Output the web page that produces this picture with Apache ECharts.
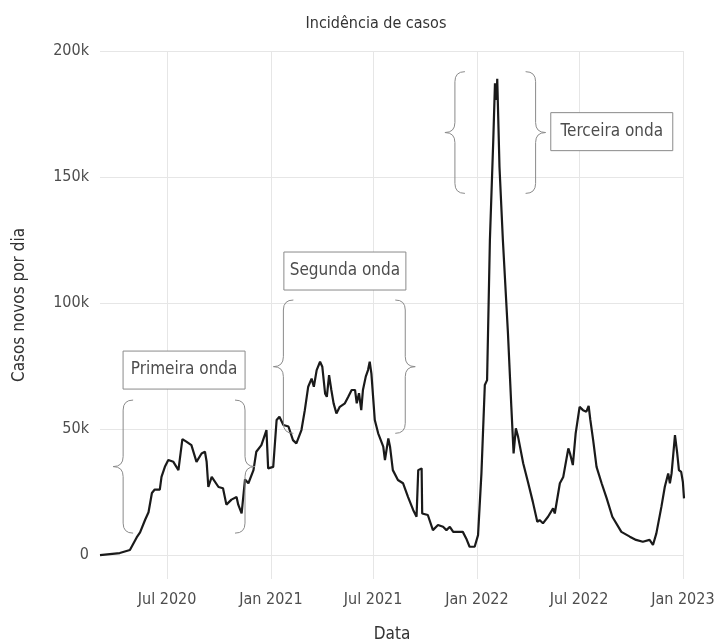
<!DOCTYPE html>
<html>
<head>
<meta charset="utf-8">
<script src="https://cdn.jsdelivr.net/npm/echarts@6/dist/echarts.min.js"></script>
<style>
    html, body { margin: 0; padding: 0; background: #fff; }
    #chart { width: 718px; height: 642px; }
</style>
</head>
<body>
<div id="chart"></div>
<script>
// days counted from 2020-03-04, values in thousands of new cases per day
const startDate = [2020, 2, 4];
const caseDays = [0,35,53,65,71,80,86,92,97,106,
    109,115,121,130,139,146,153,162,171,180,
    186,189,192,198,210,218,224,233,242,245,
    251,254,257,263,272,277,286,295,298,307,
    313,318,325,334,342,348,357,363,369,375,
    379,384,390,394,399,402,406,410,414,419,
    425,434,440,446,452,455,459,463,466,471,
    475,478,481,487,493,502,505,511,514,519,
    528,537,546,555,561,564,570,571,581,590,
    599,608,614,620,626,643,649,655,664,670,
    676,682,686,691,697,700,703,704,708,714,
    723,729,733,737,741,750,759,767,775,779,
    785,794,803,806,815,821,830,833,838,843,
    850,856,862,866,869,874,880,889,898,908,
    924,939,950,962,974,980,986,995,1001,1007,
    1010,1013,1019,1023,1026,1030,1033,1035];
const caseValues = [0,0.8,2,7,9,14,17,24.6,26,26,
    31,35,37.7,37,33.7,46,45,43.6,37,40.3,
    41,37,27,31,27,26.5,20,22,23,20,
    16.5,16.5,30,28.5,33.7,41,43.6,49.6,34.4,35,
    53.6,54.9,51.6,51,45.6,44.3,49.6,57.5,66.8,70,
    66.8,73.4,76.7,74.7,64,62.8,71.4,65.5,60.2,56.2,
    58.8,60.2,62.8,65.5,65.5,60.2,64.2,57.5,65.5,70.8,
    73.4,76.7,72,53.6,48.3,43,37.7,46.3,43,33.7,
    29.8,28.5,23,17.9,15.2,33.7,34.4,16.5,15.9,9.9,
    11.9,11.2,9.9,11.2,9.2,9.2,6.6,3.3,3.3,7.9,
    32.4,67.5,69.4,125,164.7,187.2,180.6,189,154,125,
    88,58.8,40.3,50.3,46.9,36.4,28.5,21.2,13.2,13.9,
    12.6,15.2,18.5,16.5,28.5,31,42.3,40.3,35.7,48.3,
    58.8,57.5,56.9,59.2,53.6,45.6,35,28.5,22.5,15.2,
    9.2,7.3,6,5.3,6,4,8.6,19.2,27.1,32.4,
    28.5,32.4,47.6,40.3,33.7,33,29,22.5];

const xTickDates = [[2020, 6, 1], [2021, 0, 1], [2021, 6, 1], [2022, 0, 1], [2022, 6, 1], [2023, 0, 1]];
const xTickLabels = ['Jul 2020', 'Jan 2021', 'Jul 2021', 'Jan 2022', 'Jul 2022', 'Jan 2023'];
const yTickValues = [0, 50000, 100000, 150000, 200000];
const yTickLabels = ['0', '50k', '100k', '150k', '200k'];

// annotations: wave label, brace span (days), brace value range (k), label anchor
const waveLabels = ['Primeira onda', 'Segunda onda', 'Terceira onda'];
const waveStartDays = [41, 325, 629];
const waveEndDays = [257, 541, 772];
const waveLow = [8.7, 48.3, 143.5];
const waveHigh = [61.5, 101.2, 191.8];
const waveLabelDays = [149, 434, 907];
const waveLabelValues = [73.4, 112.7, 168];

const FONT = "'Liberation Sans Narrow', 'DejaVu Sans Condensed', sans-serif";

const DAY = 86400000;
const t0 = Date.UTC(startDate[0], startDate[1], startDate[2]);
const xTickDays = xTickDates.map(d => Math.round((Date.UTC(d[0], d[1], d[2]) - t0) / DAY));

const lineData = caseDays.map((d, i) => [d, caseValues[i] * 1000]);
const annoData = waveLabels.map((name, i) => [
    waveStartDays[i], waveEndDays[i],
    waveLow[i] * 1000, waveHigh[i] * 1000,
    waveLabelDays[i], waveLabelValues[i] * 1000
]);

function bracePath(xv, top, bottom, dir) {
    const c = 10;
    const mid = (top + bottom) / 2;
    return 'M' + (xv - dir * c) + ' ' + top +
        ' Q' + xv + ' ' + top + ' ' + xv + ' ' + (top + c) +
        ' L' + xv + ' ' + (mid - c) +
        ' Q' + xv + ' ' + mid + ' ' + (xv + dir * c) + ' ' + mid +
        ' Q' + xv + ' ' + mid + ' ' + xv + ' ' + (mid + c) +
        ' L' + xv + ' ' + (bottom - c) +
        ' Q' + xv + ' ' + bottom + ' ' + (xv - dir * c) + ' ' + bottom;
}

function renderWave(params, api) {
    const i = params.dataIndex;
    const lt = api.coord([api.value(0), api.value(3)]);
    const lb = api.coord([api.value(0), api.value(2)]);
    const rt = api.coord([api.value(1), api.value(3)]);
    const c = api.coord([api.value(4), api.value(5)]);
    const braceStyle = { stroke: '#8a8a8a', lineWidth: 1, fill: null };
    return {
        type: 'group',
        children: [
            { type: 'path', shape: { pathData: bracePath(lt[0], lt[1], lb[1], -1) }, style: braceStyle },
            { type: 'path', shape: { pathData: bracePath(rt[0], lt[1], lb[1], 1) }, style: braceStyle },
            { type: 'rect', shape: { x: c[0] - 61, y: c[1] - 19, width: 122, height: 38 },
              style: { fill: '#fff', stroke: '#8a8a8a', lineWidth: 1 } },
            { type: 'text', x: c[0], y: c[1],
              style: { text: waveLabels[i], fill: '#4d4d4d', font: '17px ' + FONT,
                       align: 'center', verticalAlign: 'middle' } }
        ]
    };
}

const chart = echarts.init(document.getElementById('chart'));
chart.setOption({
    animation: false,
    title: {
        text: 'Incidência de casos',
        left: 371,
        textAlign: 'center',
        top: 11,
        textStyle: { fontFamily: FONT, fontSize: 16, fontWeight: 'normal', color: '#333' }
    },
    grid: { left: 100, right: 34, top: 51, bottom: 63, outerBoundsMode: 'none', containLabel: false },
    xAxis: {
        type: 'value',
        min: 0,
        max: 1035,
        name: 'Data',
        nameLocation: 'middle',
        nameGap: 47,
        nameTextStyle: { fontFamily: FONT, fontSize: 17, color: '#333' },
        axisLine: { show: false },
        axisTick: { show: false, customValues: xTickDays },
        axisLabel: {
            customValues: xTickDays,
            margin: 13,
            fontFamily: FONT, fontSize: 16, color: '#4d4d4d',
            formatter: v => xTickLabels[xTickDays.indexOf(v)]
        },
        splitLine: { show: true, lineStyle: { color: '#e6e6e6', width: 1 } }
    },
    yAxis: {
        type: 'value',
        min: -9500,
        max: 200000,
        name: 'Casos novos por dia',
        nameLocation: 'middle',
        nameGap: 72,
        nameTextStyle: { fontFamily: FONT, fontSize: 17, color: '#333', padding: [0, 0, 0, 20] },
        axisLine: { show: false },
        axisTick: { show: false, customValues: yTickValues },
        axisLabel: {
            customValues: yTickValues,
            margin: 11,
            fontFamily: FONT, fontSize: 16, color: '#4d4d4d',
            formatter: v => yTickLabels[yTickValues.indexOf(v)]
        },
        splitLine: { show: true, lineStyle: { color: '#e6e6e6', width: 1 } }
    },
    series: [
        {
            type: 'line',
            data: lineData,
            showSymbol: false,
            lineStyle: { color: '#1a1a1a', width: 2.2 },
            z: 3
        },
        {
            type: 'custom',
            data: annoData,
            renderItem: renderWave,
            encode: { x: [0, 1, 4], y: [2, 3, 5] },
            silent: true,
            z: 4
        }
    ]
});
</script>
</body>
</html>
